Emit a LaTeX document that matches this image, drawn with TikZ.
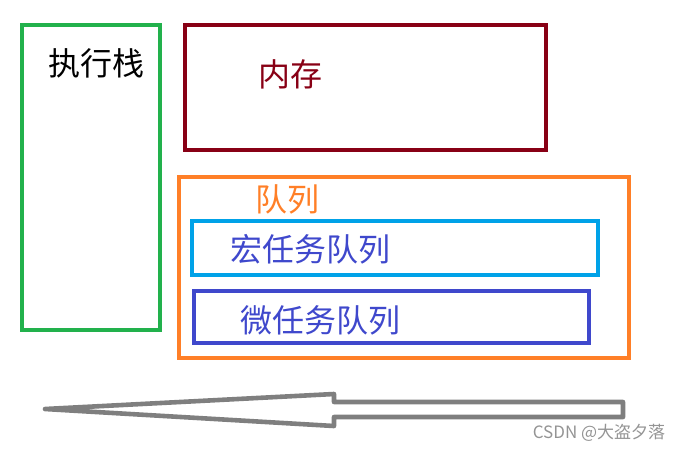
\documentclass[tikz,border=0pt]{standalone}
\usepackage{fontspec}
\setmainfont{Noto Sans CJK SC}
\usetikzlibrary{positioning,calc}
\definecolor{StackGreen}{RGB}{34,177,76}
\definecolor{MemRed}{RGB}{136,0,21}
\definecolor{QueueOrange}{RGB}{255,127,39}
\definecolor{MacroBlue}{RGB}{0,162,232}
\definecolor{MicroIndigo}{RGB}{63,72,204}
\definecolor{ArrowGray}{RGB}{127,127,127}
\tikzset{
  frame/.style={line width=2.3pt},
  lab/.style={inner sep=0pt,font=\fontsize{16}{16}\selectfont},
  wmark/.style={inner sep=0pt,font=\fontsize{8.5}{8.5}\selectfont,text=black!42},
}
\begin{document}
\begin{tikzpicture}[x=0.5pt,y=-0.5pt]
\useasboundingbox (0,0) rectangle (684,451);
\coordinate (s1) at (22,25);
\coordinate (s2) at (160,330);
\coordinate (m1) at (185,25);
\coordinate (m2) at (546,150);
\coordinate (q1) at (179,177);
\coordinate (q2) at (629,358);
\coordinate (ma1) at (192,221);
\coordinate (ma2) at (598,275);
\coordinate (mi1) at (194,291);
\coordinate (mi2) at (589,343);
\draw[frame,StackGreen] (s1) rectangle (s2);
\draw[frame,MemRed] (m1) rectangle (m2);
\draw[frame,QueueOrange] (q1) rectangle (q2);
\draw[frame,MacroBlue] (ma1) rectangle (ma2);
\draw[frame,MicroIndigo] (mi1) rectangle (mi2);
\node[lab] (stack) at (96,63) {执行栈};
\node[lab,text=MemRed] (mem) at (290,74) {内存};
\node[lab,text=QueueOrange] (queue) at (287,199) {队列};
\node[lab,text=MicroIndigo] (macro) at (310,249) {宏任务队列};
\node[lab,text=MicroIndigo] (micro) at (320,320) {微任务队列};
% hollow arrow pointing left
\coordinate (tip) at (45,409);
\draw[frame,ArrowGray,line join=round] (tip) -- (334,394) -- (334,402) -- (623,402)
  -- (623,417) -- (334,417) -- (334,426) -- cycle;
\node[wmark] (wm) at (599,433) {CSDN @大盗夕落};
\end{tikzpicture}
\end{document}
